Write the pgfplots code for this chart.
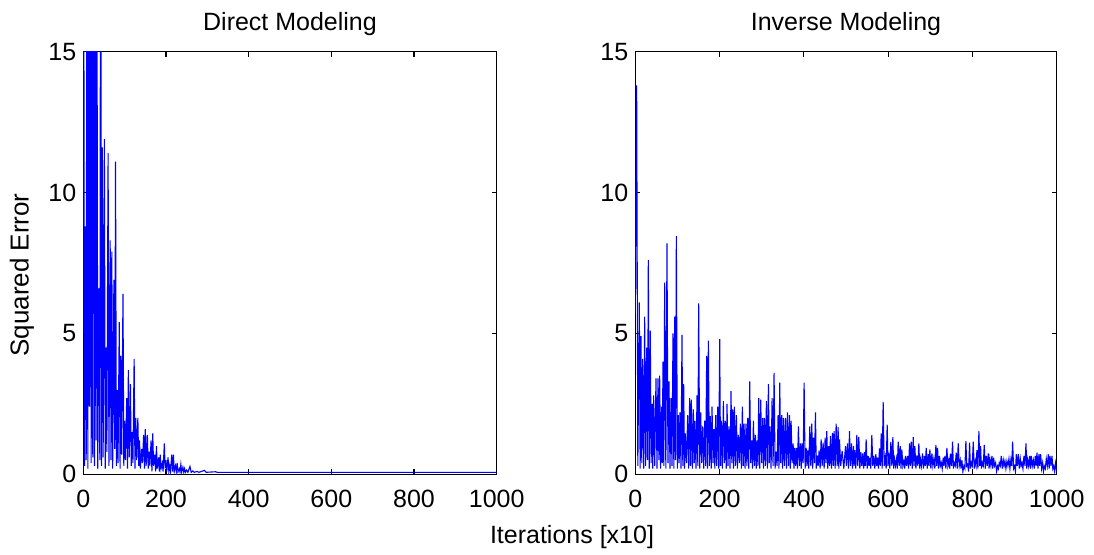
\documentclass[border=0pt]{standalone}
\usepackage{pgfplots}
\pgfplotsset{compat=1.18}
\usepackage{fontspec}
\setmainfont{Liberation Sans}
\pgfplotsset{
  matlab/.style={
    scale only axis,
    height=211.3pt,
    xmin=0, xmax=1000, ymin=0, ymax=15,
    xtick={0,200,400,600,800,1000},
    ytick={0,5,10,15},
    tick align=inside,
    major tick length=2.5pt,
    axis line style={black, line width=0.6pt},
    every tick/.style={black, line width=0.6pt},
    tick label style={font=\fontsize{12.5}{14}\selectfont},
    /pgf/number format/assume math mode=true,
    /pgf/number format/1000 sep={},
    scaled ticks=false,
    xticklabel style={yshift=-4.5pt},
    title style={font=\fontsize{12.5}{14}\selectfont, yshift=-1.5pt},
  }
}
\begin{document}
\begin{tikzpicture}
\useasboundingbox (0,0) rectangle (547pt,277.5pt);
\begin{axis}[matlab, at={(41.65pt,40.35pt)}, anchor=south west, width=206.7pt, title={Direct Modeling}]
\addplot[blue, line width=0.55pt] coordinates {
(0,5) (1,20) (3,0.3) (5,8.8) (7,0.5) (9,25) (11,0.2) (13,18) (15,2.4) (17,22) (19,0.4) (21,16) (23,0.6) (25,30) (27,0.3) (29,17) (31,1.2) (33,19) (35,0.2) (38,6.6) (40,0.5) (42,24) (44,0.3) (46,11.6) (48,0.6) (51,11.9) (53,0.2) (55,4.5) (57,0.8) (60,11.4) (62,0.3) (65,8.3) (67,0.5) (69,7.9) (71,0.2) (74,6.9) (76,0.9) (78,11.1) (80,0.3) (82,3.0) (84,0.4) (87,5.4) (89,0.2) (91,4.2) (93,0.7) (96,6.4) (98,0.3) (100,1.9) (102,0.5) (105,2.7) (107,0.2) (109,3.7) (111,0.6) (114,3.2) (116,0.3) (118,1.5) (120,0.4) (123,4.1) (125,0.2) (127,2.0) (129,0.5) (132,2.0) (134,0.3) (136,1.2) (138,0.2) (141,0.9) (143,0.4) (146,1.4) (148,0.2) (150,1.6) (152,0.3) (155,1.4) (157,0.2) (159,0.8) (161,0.3) (164,1.2) (166,0.1) (168,1.45) (170,0.3) (173,0.7) (175,0.1) (177,1.0) (179,0.2) (182,0.6) (184,0.1) (186,0.7) (188,0.2) (191,0.4) (193,0.1) (196,1.1) (198,0.2) (200,0.5) (202,0.1) (205,0.6) (207,0.1) (209,0.3) (211,0.1) (214,0.7) (216,0.1) (218,0.7) (220,0.1) (223,0.3) (225,0.1) (227,0.4) (229,0.08) (232,0.2) (234,0.08) (236,0.35) (238,0.08) (241,0.25) (243,0.08) (245,0.2) (247,0.07) (250,0.15) (253,0.07) (258,0.28) (261,0.07) (265,0.12) (268,0.07) (275,0.1) (280,0.07) (293,0.14) (297,0.07) (320,0.09) (324,0.07) (1000,0.07)
};
\end{axis}
\begin{axis}[matlab, at={(317.65pt,40.35pt)}, anchor=south west, width=210.7pt, title={Inverse Modeling}]
\addplot[blue, line width=0.55pt] coordinates {
(0,5.7) (3.2,13.8) (6,0.3) (9.5,6.1) (11.5,0.2) (13.5,4.9) (15.5,0.4) (17.4,4.1) (20,0.2) (22.2,5.6) (24.5,0.3) (26.9,4.5) (29,0.5) (30.9,7.6) (33,0.2) (35.6,5.1) (37.5,0.4) (39.6,2.5) (41.5,0.2) (43.5,2.8) (46,0.3) (49.1,3.4) (51.5,0.2) (53.8,3.4) (56,0.5) (57.8,3.5) (60,0.2) (62.5,2.4) (64,0.4) (65.7,4.0) (67.7,0.3) (69.7,6.8) (72.5,0.2) (75.2,8.2) (77.5,0.4) (80,3.3) (82.3,0.2) (84.7,2.7) (87,0.3) (89.5,5.0) (91.5,0.2) (93.4,5.6) (95.4,0.5) (97.4,8.45) (99.8,0.2) (102.1,2.1) (104,0.4) (106.1,2.2) (108.5,0.2) (110.8,4.95) (112.8,0.3) (114.8,3.2) (116.8,0.2) (118.7,1.45) (121.5,0.4) (124.3,2.1) (126.6,0.2) (129,2.7) (131,0.3) (133,2.65) (135.4,0.2) (137.8,2.3) (139.8,0.4) (141.7,1.9) (144,0.2) (146.5,2.8) (148.4,0.3) (150.4,6.07) (152.8,0.2) (155.2,2.2) (157.5,0.4) (159.9,1.7) (162.3,0.2) (164.7,1.9) (167,0.3) (169.4,4.2) (171.4,0.2) (173.4,4.74) (175.8,0.3) (178.1,2.06) (180.1,0.2) (182.1,2.4) (184.5,0.4) (186.8,1.6) (188.8,0.2) (190.8,2.1) (193.2,0.3) (195.5,2.4) (197.9,0.2) (200.3,4.8) (202.2,0.3) (204.2,1.9) (206.6,0.2) (209,2.6) (211.4,0.4) (213.7,1.9) (215.7,0.2) (217.7,2.5) (220,0.3) (222.4,1.7) (224.8,0.2) (227.2,2.95) (229.1,0.4) (231.1,2.3) (233.1,0.2) (235.1,2.4) (237.5,0.3) (239.9,2.1) (242.2,0.2) (244.6,1.4) (247,0.4) (249.4,1.8) (251.8,0.2) (254.1,2.4) (256.1,0.3) (258.1,1.8) (260.5,0.2) (262.8,1.8) (264.8,0.3) (266.8,2.0) (269.2,0.2) (271.5,3.3) (273.9,0.4) (276.3,1.2) (278.3,0.2) (280.3,1.9) (282.7,0.3) (285,1.4) (287,0.2) (289,1.2) (291,0.3) (292.9,2.7) (295.3,0.2) (297.7,2.65) (300,0.4) (302.4,2.0) (304.4,0.2) (306.4,2.0) (308.8,0.3) (311.1,2.6) (313.5,0.2) (315.9,3.2) (317.9,0.4) (319.8,1.7) (322.2,0.2) (324.6,2.7) (327,0.3) (329.3,3.6) (331.7,0.2) (334.1,0.8) (336.5,0.3) (338.8,2.1) (340.8,0.2) (342.8,3.25) (345.2,0.4) (347.5,2.1) (349.5,0.2) (351.5,2.0) (353.9,0.3) (356.3,2.0) (358.7,0.2) (361,2.2) (363.4,0.3) (365.8,2.1) (367.8,0.2) (369.7,1.9) (372.1,0.4) (374.5,1.1) (376.5,0.2) (378.4,0.94) (380.4,0.3) (382.4,0.94) (384.8,0.2) (387.1,1.7) (389.5,0.3) (391.9,1.1) (393.9,0.2) (395.9,1.1) (398.3,0.4) (400.6,3.25) (403,0.2) (405.4,0.94) (407.4,0.3) (409.3,0.85) (411.7,0.2) (414.1,1.7) (416.5,0.3) (418.8,1.8) (420.8,0.2) (422.8,1.3) (425.2,0.4) (427.5,2.2) (429.5,0.2) (431.5,0.67) (433.9,0.3) (436.2,0.85) (438.6,0.2) (441,1.24) (443.4,0.3) (445.7,1.12) (448.1,0.2) (450.5,1.3) (452.5,0.4) (454.4,1.53) (456.8,0.2) (459.2,1.0) (461.2,0.3) (463.1,1.36) (465.5,0.2) (467.9,1.47) (469.9,0.3) (471.8,1.53) (474.2,0.2) (476.6,1.8) (479,0.3) (481.3,1.67) (483,0.2)
(484.5,1.24) (487.5,0.3) (490.8,0.83) (494.8,0.2) (498.8,1.0) (501,0.3) (503.5,1.1) (506,0.2) (508.3,1.53) (510.6,0.3) (513,1.1) (515.4,0.2) (517.8,1.0) (519.3,0.3) (520.9,0.86) (523.3,0.2) (525.7,1.4) (528,0.3) (530.4,1.33) (532.8,0.2) (535.2,0.79) (537.5,0.3) (539.9,0.74) (541.9,0.2) (543.9,0.79) (545.8,0.3) (547.8,1.24) (550.2,0.2) (552.6,0.65) (554.5,0.3) (556.5,0.59) (558.9,0.2) (561.3,1.4) (563.6,0.3) (566,0.65) (568.4,0.2) (570.8,0.71) (572.8,0.3) (574.8,0.59) (577.1,0.2) (579.5,0.92) (581.5,0.3) (583.5,1.45) (585.8,0.2) (588.2,2.57) (590.6,0.3) (593,0.58) (595.3,0.2) (597.7,1.76) (599.7,0.3) (601.7,0.77) (604,0.2) (606.4,1.15) (608.8,0.3) (611.2,1.32) (613.1,0.2) (615.1,0.55) (617.5,0.3) (619.9,0.55) (621.8,0.2) (623.8,1.16) (626.2,0.3) (628.6,1.0) (630.5,0.2) (632.5,0.88) (634.9,0.3) (637.3,0.47) (639.3,0.2) (641.3,0.65) (643.6,0.3) (646,0.65) (648.4,0.2) (650.8,1.1) (652.7,0.3) (654.7,1.16) (657.1,0.2) (659.5,1.32) (661.4,0.3) (663.4,1.0) (665.8,0.2) (668.2,0.67) (670.5,0.3) (672.9,1.1) (674.9,0.2) (676.9,0.53) (679.2,0.3) (681.6,0.74) (684,0.2) (686.4,0.65) (688.3,0.3) (690.3,0.94) (692.7,0.2) (695.1,0.71) (697,0.3) (699,0.88) (701.4,0.2) (703.8,0.74) (706.1,0.3) (708.5,0.55) (710.9,0.2) (713.3,1.04) (715.3,0.3) (717.3,0.94) (719.6,0.2) (722,0.65) (724,0.3) (726,0.41) (728.3,0.2) (730.7,0.59) (732.7,0.3) (734.7,0.65) (737,0.2) (739.4,0.94) (741.8,0.3) (744.2,0.51) (746.1,0.2) (748.1,0.73) (750.5,0.3) (752.9,1.16) (754.8,0.2) (756.8,0.41) (759.2,0.3) (761.6,0.77) (763.9,0.2) (766.3,1.1) (768.7,0.3) (771.1,0.5) (773,0.2) (775,0.5) (777.4,0.1) (779.8,0.29) (782.1,0.2) (784.5,1.18) (786.5,0.3) (788.5,0.35) (790.9,0.1) (793.3,1.12) (795.2,0.2) (797.2,0.41) (799.6,0.3) (802,1.16) (804.3,0.2) (806.7,0.47) (808.7,0.3) (810.7,0.86) (813,0.2) (815.4,1.53) (817.4,0.3) (819.4,1.0) (821.3,0.2) (823.3,0.41) (825.7,0.3) (828.1,1.04) (830.4,0.2) (832.8,0.65) (835.2,0.3) (837.6,0.74) (839.5,0.2) (841.5,0.55) (843.9,0.3) (846.3,0.65) (848.3,0.2) (850.3,0.59) (852.6,0.3) (855,0.41) (857.4,0.1) (859.8,0.29) (861.7,0.2) (863.7,0.41) (866.1,0.3) (868.5,0.65) (870.8,0.2) (873.2,0.5) (875.2,0.3) (877.2,0.47) (879.5,0.2) (881.9,0.47) (884.3,0.3) (886.7,0.55) (889,0.2) (891.4,0.53) (893.4,0.3) (895.4,1.16) (897.7,0.2) (900.1,0.29) (902.1,0.1) (904.1,0.71) (906.5,0.3) (908.9,0.71) (911.2,0.2) (913.6,0.55) (915.6,0.3) (917.6,0.41) (919.9,0.2) (922.3,0.65) (924.7,0.3) (927.1,1.1) (929,0.2) (931,0.53) (933.4,0.3) (935.8,0.65) (937.7,0.2) (939.7,0.65) (942.1,0.3) (944.5,0.5) (946.8,0.2) (949.2,0.65) (951.2,0.3) (953.2,0.77) (955.5,0.2) (957.9,0.71) (959.9,0.3) (961.9,0.71) (964.2,0.2) (966.6,0.41) (968.6,0.1) (970.6,0.29) (972.9,0.2) (975.3,0.55) (977.7,0.3) (980.1,0.71) (982.1,0.2) (984.1,0.65) (986.4,0.3) (988.8,0.65) (990.8,0.2) (992.8,0.29) (995,0.1) (997,0.4) (1000,0.1)
};
\end{axis}
\node[rotate=90, font=\fontsize{13}{15}\selectfont] at (11pt,140pt) {Squared Error};
\node[font=\fontsize{12.5}{14}\selectfont] at (286pt,9pt) {Iterations [x10]};
\end{tikzpicture}
\end{document}
